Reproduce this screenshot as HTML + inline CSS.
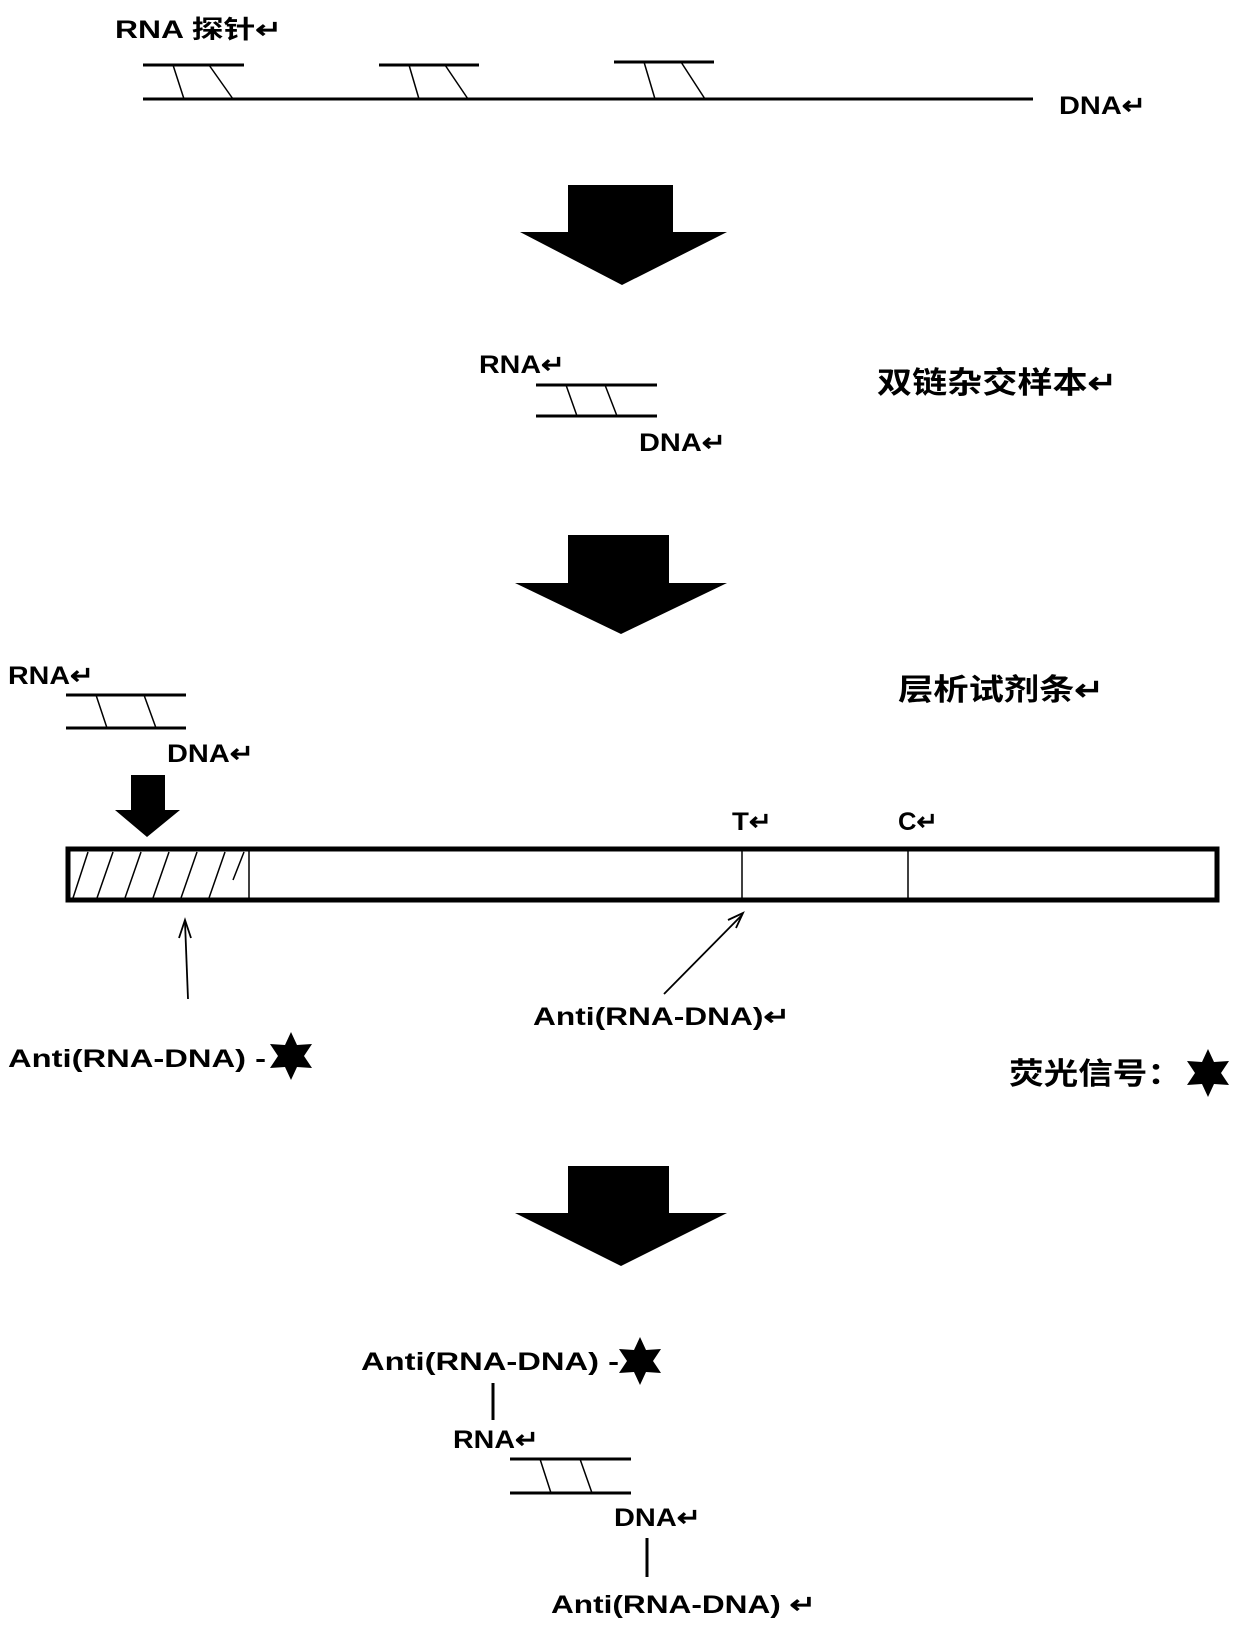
<!DOCTYPE html>
<html><head><meta charset="utf-8"><style>
html,body{margin:0;padding:0;background:#fff;}
svg{display:block}
text{font-family:"Liberation Sans","Noto Sans CJK SC",sans-serif;font-weight:bold;fill:#000;font-size:25px}
</style></head><body>
<svg width="1240" height="1641" viewBox="0 0 1240 1641" xmlns="http://www.w3.org/2000/svg">
<defs>
<g id="star"><polygon points="0,-24 6,-11 21,-12 13,0 21,12 6,11 0,24 -6,11 -21,12 -13,0 -21,-12 -6,-11" fill="#000"/></g>
</defs>
<text x="115" y="38" textLength="167" lengthAdjust="spacingAndGlyphs">RNA 探针↵</text>
<g stroke="#000" stroke-width="3">
<line x1="143" y1="65" x2="244" y2="65"/>
<line x1="379" y1="65" x2="479" y2="65"/>
<line x1="614" y1="62" x2="714" y2="62"/>
<line x1="143" y1="99" x2="1033" y2="99"/>
</g>
<g stroke="#000" stroke-width="1.5">
<line x1="173" y1="65" x2="184" y2="99"/><line x1="209" y1="65" x2="233" y2="99"/>
<line x1="409" y1="65" x2="419" y2="99"/><line x1="445" y1="65" x2="468" y2="99"/>
<line x1="644" y1="62" x2="655" y2="99"/><line x1="681" y1="62" x2="705" y2="99"/>
</g>
<text x="1059" y="114" textLength="87" lengthAdjust="spacingAndGlyphs">DNA↵</text>
<polygon points="568,185 673,185 673,232 727,232 622,285 520,232 568,232" fill="#000"/>
<text x="479" y="373" textLength="86" lengthAdjust="spacingAndGlyphs">RNA↵</text>
<g stroke="#000" stroke-width="3"><line x1="536" y1="385" x2="657" y2="385"/><line x1="536" y1="416" x2="657" y2="416"/></g>
<g stroke="#000" stroke-width="1.5"><line x1="566" y1="385" x2="577" y2="416"/><line x1="605" y1="385" x2="617" y2="416"/></g>
<text x="639" y="451" textLength="87" lengthAdjust="spacingAndGlyphs">DNA↵</text>
<text x="877" y="393" textLength="240" lengthAdjust="spacingAndGlyphs" style="font-size:30px">双链杂交样本↵</text>
<polygon points="568,535 669,535 669,583 727,583 621,634 515,583 568,583" fill="#000"/>
<text x="8" y="684" textLength="86" lengthAdjust="spacingAndGlyphs">RNA↵</text>
<g stroke="#000" stroke-width="3"><line x1="66" y1="695" x2="186" y2="695"/><line x1="66" y1="728" x2="186" y2="728"/></g>
<g stroke="#000" stroke-width="1.5"><line x1="96" y1="695" x2="107" y2="728"/><line x1="144" y1="695" x2="156" y2="728"/></g>
<text x="167" y="762" textLength="87" lengthAdjust="spacingAndGlyphs">DNA↵</text>
<text x="898" y="700" textLength="206" lengthAdjust="spacingAndGlyphs" style="font-size:30px">层析试剂条↵</text>
<polygon points="131,775 165,775 165,810 180,810 147,837 115,810 131,810" fill="#000"/>
<text x="732" y="830" textLength="40" lengthAdjust="spacingAndGlyphs">T↵</text>
<text x="898" y="830" textLength="40" lengthAdjust="spacingAndGlyphs">C↵</text>
<rect x="68" y="849" width="1149" height="51" fill="none" stroke="#000" stroke-width="5"/>
<g stroke="#000" stroke-width="1.5">
<line x1="249" y1="849" x2="249" y2="900"/>
<line x1="742" y1="849" x2="742" y2="900"/>
<line x1="908" y1="849" x2="908" y2="900"/>
<line x1="73" y1="898" x2="88" y2="852"/><line x1="97" y1="898" x2="113" y2="852"/><line x1="125" y1="898" x2="141" y2="852"/>
<line x1="153" y1="898" x2="169" y2="852"/><line x1="181" y1="898" x2="197" y2="852"/><line x1="209" y1="898" x2="225" y2="852"/><line x1="233" y1="880" x2="244" y2="852"/>
</g>
<g stroke="#000" stroke-width="1.8" fill="none">
<line x1="188" y1="999" x2="185" y2="922"/><polyline points="179,938 185,920 191,938"/>
<line x1="664" y1="994" x2="742" y2="915"/><polyline points="728,920 743,913 736,928"/>
</g>
<text x="533" y="1025" textLength="257" lengthAdjust="spacingAndGlyphs">Anti(RNA-DNA)↵</text>
<text x="8" y="1067" textLength="258" lengthAdjust="spacingAndGlyphs">Anti(RNA-DNA) -</text>
<use href="#star" x="291" y="1056"/>
<text x="1009" y="1084" textLength="173" lengthAdjust="spacingAndGlyphs" style="font-size:30px">荧光信号：</text>
<use href="#star" x="1208" y="1073"/>
<polygon points="568,1166 669,1166 669,1213 727,1213 621,1266 515,1213 568,1213" fill="#000"/>
<text x="361" y="1370" textLength="258" lengthAdjust="spacingAndGlyphs">Anti(RNA-DNA) -</text>
<use href="#star" x="640" y="1361"/>
<line x1="493" y1="1383" x2="493" y2="1420" stroke="#000" stroke-width="3"/>
<text x="453" y="1448" textLength="86" lengthAdjust="spacingAndGlyphs">RNA↵</text>
<g stroke="#000" stroke-width="3"><line x1="510" y1="1459" x2="631" y2="1459"/><line x1="510" y1="1493" x2="631" y2="1493"/></g>
<g stroke="#000" stroke-width="1.5"><line x1="540" y1="1459" x2="551" y2="1493"/><line x1="580" y1="1459" x2="592" y2="1493"/></g>
<text x="614" y="1526" textLength="87" lengthAdjust="spacingAndGlyphs">DNA↵</text>
<line x1="647" y1="1538" x2="647" y2="1577" stroke="#000" stroke-width="3"/>
<text x="551" y="1613" textLength="265" lengthAdjust="spacingAndGlyphs">Anti(RNA-DNA) ↵</text>
</svg>
</body></html>
